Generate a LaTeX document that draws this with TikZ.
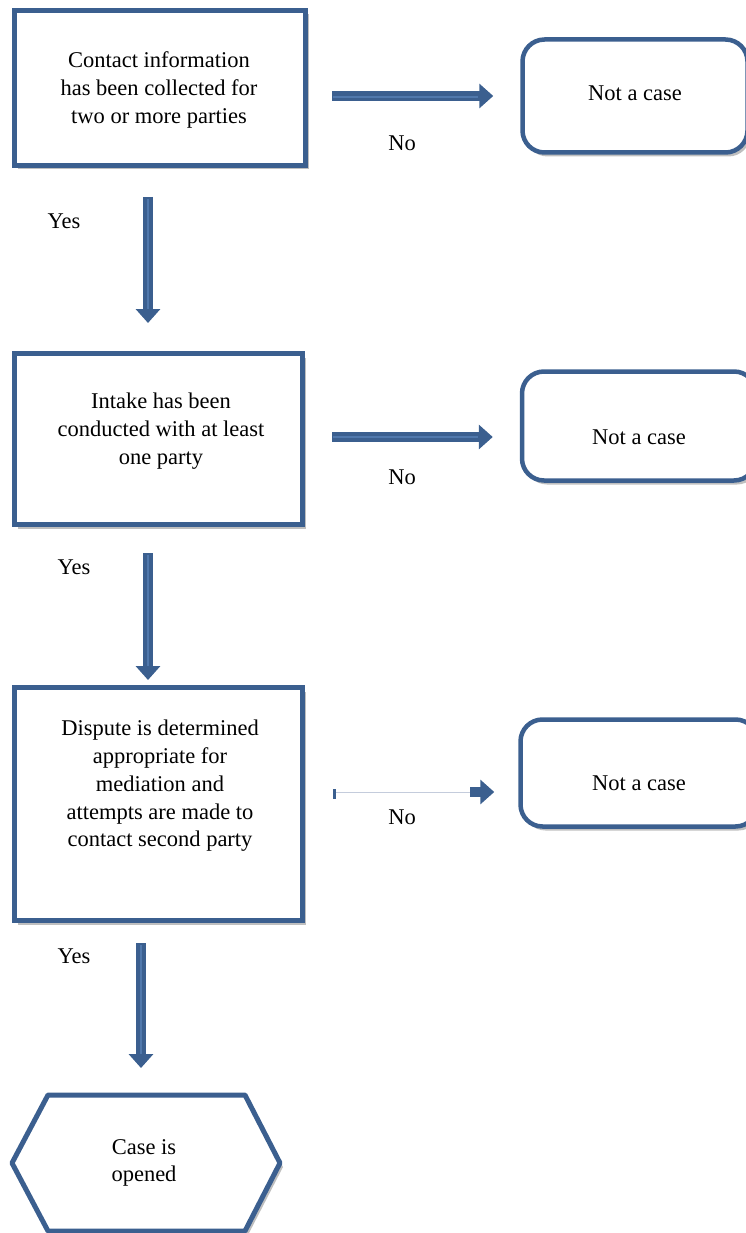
\documentclass[tikz,border=0pt]{standalone}
\usepackage{fontspec}
\setmainfont{Liberation Serif}
\usetikzlibrary{arrows.meta,shadows,calc}
\definecolor{frameblue}{RGB}{59,95,143}
\definecolor{stripeblue}{RGB}{80,120,172}
\definecolor{linkgrey}{RGB}{196,204,220}

\begin{document}
\begin{tikzpicture}[x=1pt,y=-1pt]
    \tikzstyle{txt}=[font=\fontsize{22.5}{27.8}\selectfont,align=center,inner sep=0pt]
    \tikzstyle{shade}=[drop shadow={shadow xshift=3pt,shadow yshift=-4pt,opacity=0.5,fill=black!50}]
    \tikzstyle{frame}=[draw=frameblue,line width=5pt,fill=white,shade,txt]
    \tikzstyle{endcase}=[frame,rounded corners=22pt,line width=4.5pt]
    \tikzstyle{flow}=[draw=frameblue,line width=10pt,-{Triangle[width=24pt,length=14pt]}]
    \tikzstyle{stripe}=[draw=stripeblue,line width=1.2pt]
    \useasboundingbox (0,0) rectangle (745,1233);

    % decision boxes
    \node[frame,minimum width=291pt,minimum height=155pt] (contact) at (160,88) {};
    \node[txt] (contacttext) at (159,90) {Contact information\\has been collected for\\two or more parties};
    \node[frame,minimum width=288pt,minimum height=171pt] (intake) at (158.5,439) {};
    \node[txt] (intaketext) at (161,431) {Intake has been\\conducted with at least\\one party};
    \node[frame,minimum width=288pt,minimum height=233pt] (dispute) at (158.5,804) {};
    \node[txt] (disputetext) at (160,786) {Dispute is determined\\appropriate for\\mediation and\\attempts are made to\\contact second party};

    % outcomes
    \node[endcase,minimum width=225pt,minimum height=113pt] (notcaseA) at (635,96) {};
    \node[txt] (notcaseAtext) at (635,93) {Not a case};
    \node[endcase,minimum width=234pt,minimum height=109pt] (notcaseB) at (639,426) {};
    \node[txt] (notcaseBtext) at (639,437) {Not a case};
    \node[endcase,minimum width=237pt,minimum height=107pt] (notcaseC) at (639,773) {};
    \node[txt] (notcaseCtext) at (639,783) {Not a case};

    \coordinate (hexc) at (146,1163);
    \draw[draw=frameblue,line width=5pt,fill=white,shade,line join=round]
      ($(hexc)+(-134,0)$) -- ($(hexc)+(-98,-68)$) -- ($(hexc)+(99,-68)$)
      -- ($(hexc)+(134,0)$) -- ($(hexc)+(99,68)$) -- ($(hexc)+(-98,68)$) -- cycle;
    \node[txt] (opened) at (144,1163) {Case is\\opened};

    % yes arrows
    \draw[flow,shorten <=29pt,shorten >=28pt] ([xshift=-12pt]contact.south) -- ([xshift=-12pt]contact.south |- intake.north);
    \draw[stripe] (148,199) -- (148,309);
    \draw[flow,shorten <=26pt,shorten >=5pt] ([xshift=-10.5pt]intake.south) -- ([xshift=-10.5pt]intake.south |- dispute.north);
    \draw[stripe] (148,555) -- (148,666);
    \draw[flow,shorten <=20pt,shorten >=27pt] ([xshift=-17.5pt]dispute.south) -- ([xshift=-5pt]hexc |- 0,1095);
    \draw[stripe] (141,945) -- (141,1054);

    % no arrows
    \draw[flow,shorten <=24pt,shorten >=27pt] (contact.east |- notcaseA.west) -- (notcaseA.west);
    \draw[stripe] (333,97) -- (478,97);
    \draw[flow,shorten <=27pt,shorten >=27pt] ([yshift=2pt]intake.east) -- ([yshift=2pt]intake.east -| notcaseB.west);
    \draw[stripe] (333,437) -- (478,437);
    \coordinate (noC) at (305,792);
    \draw[linkgrey,line width=1pt,shorten <=28pt,shorten >=48pt] (noC) -- (noC -| notcaseC.west);
    \draw[frameblue,line width=3pt] (334,789) -- (334,799);
    \draw[flow,shorten <=165pt,shorten >=24pt] (noC) -- (noC -| notcaseC.west);

    % labels
    \node[txt] (yesA) at (64,221) {Yes};
    \node[txt] (yesB) at (74,567) {Yes};
    \node[txt] (yesC) at (74,956) {Yes};
    \node[txt] (noA) at (402,143) {No};
    \node[txt] (noB) at (402,477) {No};
    \node[txt] (noCl) at (402,817) {No};
\end{tikzpicture}
\end{document}
